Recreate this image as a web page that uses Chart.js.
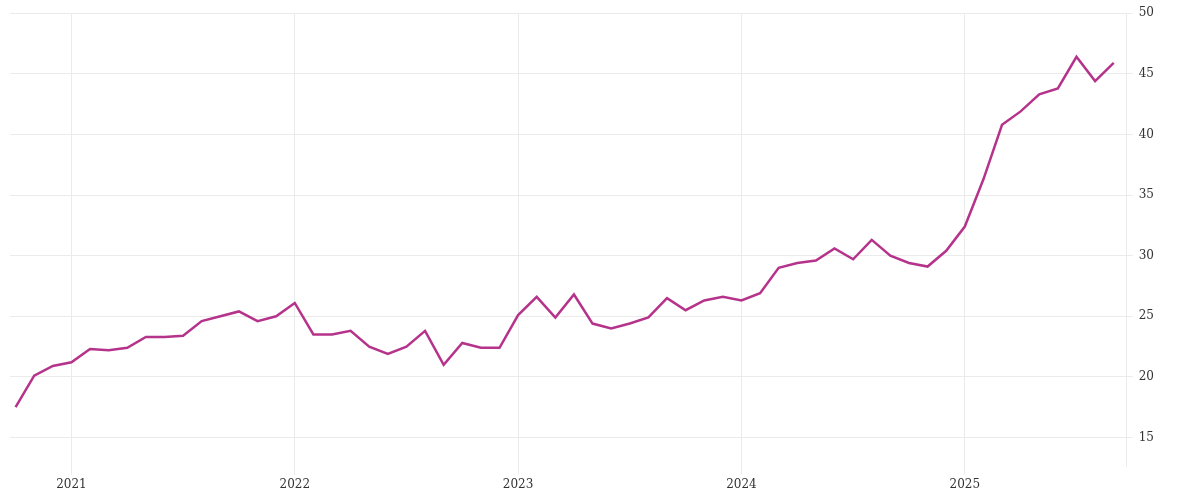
<!DOCTYPE html>
<html><head><meta charset="utf-8">
<script src="https://cdn.jsdelivr.net/npm/chart.js@4"></script>
<style>html,body{margin:0;padding:0;background:#fff}#w{width:1200px;height:500px}</style>
</head><body><div id="w"><canvas id="c"></canvas></div>
<script>
const values=[17.5,20.1,20.9,21.2,22.3,22.2,22.4,23.3,23.3,23.4,24.6,25.0,25.4,24.6,25.0,26.1,23.5,23.5,23.8,22.5,21.9,22.5,23.8,21.0,22.8,22.4,22.4,25.1,26.6,24.9,26.8,24.4,24.0,24.4,24.9,26.5,25.5,26.3,26.6,26.3,26.9,29.0,29.4,29.6,30.6,29.7,31.3,30.0,29.4,29.1,30.4,32.4,36.3,40.8,41.9,43.3,43.8,46.4,44.4,45.9];
const yearTicks=[3,15,27,39,51];
const yearLabels=['2021','2022','2023','2024','2025'];
const yTicks=[15,20,25,30,35,40,45,50];
new Chart(document.getElementById('c'),{type:'line',
data:{datasets:[{data:values.map((v,i)=>({x:i,y:v})),borderColor:'#b5338a',borderWidth:2.5,pointRadius:0,tension:0}]},
options:{responsive:true,maintainAspectRatio:false,animation:false,
layout:{padding:{left:10,right:40,top:12,bottom:5}},
plugins:{legend:{display:false},tooltip:{enabled:false}},
scales:{
x:{type:'linear',min:-0.3,max:59.7,afterBuildTicks:a=>{a.ticks=yearTicks.map(v=>({value:v}))},
ticks:{callback:(v)=>yearLabels[yearTicks.indexOf(v)],color:'#333',font:{family:'DejaVu Serif',size:12},maxRotation:0},
grid:{color:'#ebebeb',drawTicks:true,tickLength:8},border:{display:false}},
y:{position:'right',min:12.6,max:50,afterBuildTicks:a=>{a.ticks=yTicks.map(v=>({value:v}))},
ticks:{color:'#333',font:{family:'DejaVu Serif',size:12},padding:6},
grid:{color:'#ebebeb',tickLength:6},border:{display:true,color:'#ebebeb'}}
}}});
</script></body></html>
